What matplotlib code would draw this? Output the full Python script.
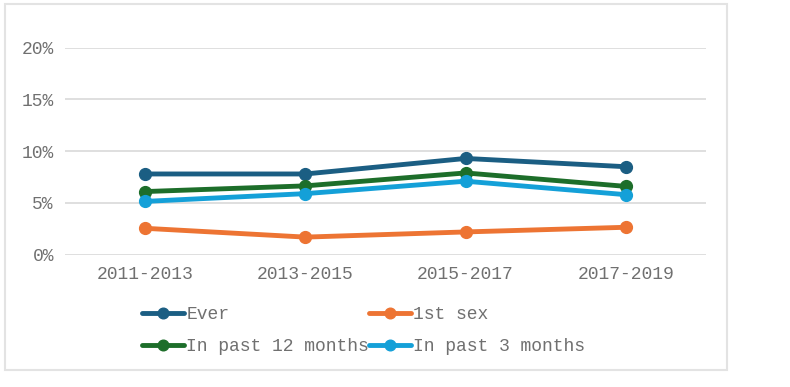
import matplotlib
matplotlib.use("Agg")
import matplotlib.pyplot as plt
from matplotlib.patches import Rectangle
from matplotlib.ticker import FuncFormatter

periods = ["2011-2013", "2013-2015", "2015-2017", "2017-2019"]
ever = [7.8, 7.8, 9.3, 8.5]
first_sex = [2.55, 1.7, 2.2, 2.65]
past12 = [6.1, 6.65, 7.9, 6.6]
past3 = [5.15, 5.9, 7.1, 5.8]
yticks = [0, 5, 10, 15, 20]

series = [
    ("Ever", ever, "#1b5e83"),
    ("1st sex", first_sex, "#ed7433"),
    ("In past 12 months", past12, "#1d6e2a"),
    ("In past 3 months", past3, "#14a0d8"),
]

plt.rcParams['font.family'] = ['Liberation Mono', 'DejaVu Sans']
text_color = "#707070"
fs = 13

fig = plt.figure(figsize=(7.9, 3.87), dpi=100)
fig.patches.append(Rectangle((5/790, 1-370/387), (727-5)/790, (370-4)/387,
                             transform=fig.transFigure, fill=False,
                             edgecolor="#e3e3e3", linewidth=1.5))

ax = fig.add_axes([65/790, 1-254.7/387, (706-65)/790, (254.7-47.7)/387])
x = list(range(len(periods)))
handles = {}
for name, vals, col in series:
    h, = ax.plot(x, vals, color=col, lw=3.5, marker='o', markersize=8.5,
                 label=name, solid_capstyle='round')
    handles[name] = h

ax.set_xlim(-0.5, 3.5)
ax.set_ylim(0, 20)
ax.set_yticks(yticks)
ax.yaxis.set_major_formatter(FuncFormatter(lambda v, p: f"{int(v)}%"))
ax.set_xticks(x)
ax.set_xticklabels(periods)
ax.grid(axis='y', color="#dcdcdc", lw=1.3)
ax.set_axisbelow(True)
for s in ax.spines.values():
    s.set_visible(False)
ax.tick_params(length=0, labelsize=fs, colors=text_color, pad=8)
ax.tick_params(axis='x', pad=8)

order = ["Ever", "In past 12 months", "1st sex", "In past 3 months"]
leg = fig.legend(handles=[handles[n] for n in order], ncol=2, loc='upper left',
                 bbox_to_anchor=(142/790, 1-306/387), frameon=False,
                 fontsize=fs, handlelength=2.35, handletextpad=0.1,
                 columnspacing=0.0, labelspacing=0.85, borderaxespad=0,
                 borderpad=0, markerscale=0.9)
for t in leg.get_texts():
    t.set_color(text_color)

fig.savefig("out.png", dpi=100)
